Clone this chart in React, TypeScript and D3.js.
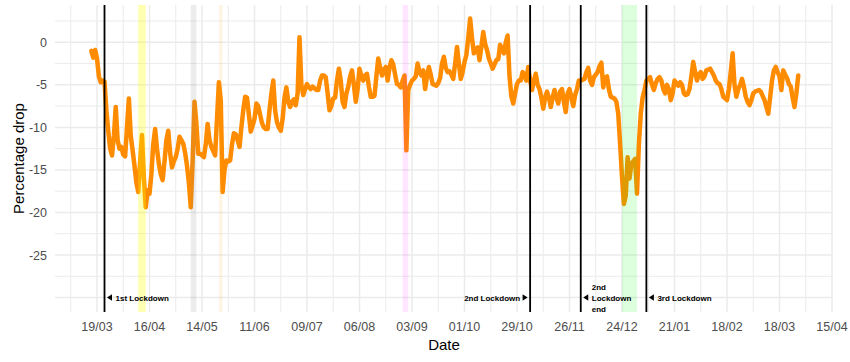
import React from "react";
import * as d3 from "d3";

// ---- data ----
const START_DATE = "2020-03-16"; // first daily observation
const values: number[] = [
  // Mar 16 - Mar 31 2020
  -1.0, -1.8, -0.9, -1.9, -4.0, -4.7, -4.5, -4.6, -8.0, -10.4, -12.5, -13.3, -11.0, -7.6, -11.5, -12.5,
  // Apr 2020
  -12.3, -13.2, -13.4, -10.0, -6.6, -11.0, -12.7, -14.5, -16.5, -17.6, -14.0, -10.9, -16.0, -19.4, -17.4,
  -17.8, -15.5, -12.0, -10.2, -12.5, -14.3, -15.5, -16.2, -14.0, -11.5, -10.4, -13.0, -14.7, -14.0, -13.5,
  // May 2020
  -12.5, -11.1, -11.5, -11.9, -13.0, -14.5, -16.5, -19.4, -14.0, -7.0, -9.5, -13.1, -13.1, -13.3, -13.5,
  -12.0, -9.6, -11.5, -12.3, -12.8, -13.3, -9.0, -4.7, -6.8, -17.6, -15.0, -13.9, -14.0, -13.9, -12.0, -10.7,
  // Jun 2020
  -10.8, -11.5, -12.3, -10.0, -8.0, -6.4, -6.5, -8.5, -10.5, -9.8, -9.0, -7.2, -7.5, -8.5, -9.5,
  -10.0, -10.2, -10.2, -8.0, -6.0, -4.5, -8.0, -9.4, -10.0, -10.4, -9.0, -6.5, -5.3, -7.0, -7.6,
  // Jul 2020
  -7.0, -6.7, -7.4, -6.0, 0.6, -5.0, -6.2, -5.5, -4.9, -5.3, -5.5, -5.2, -5.4, -5.6, -5.6, -4.5,
  -3.9, -3.9, -4.1, -6.0, -8.0, -7.5, -6.6, -6.5, -4.5, -3.1, -4.5, -7.0, -7.6, -6.0, -5.2,
  // Aug 2020
  -4.0, -3.3, -5.0, -7.0, -5.5, -3.1, -4.0, -4.5, -3.9, -3.7, -5.2, -6.4, -6.4, -6.3, -4.0, -1.9,
  -3.0, -3.9, -3.2, -2.9, -4.5, -3.0, -2.1, -2.6, -3.8, -4.9, -5.0, -5.3, -4.5, -3.9, -12.7,
  // Sep 2020
  -5.6, -5.0, -4.5, -4.3, -4.0, -2.5, -3.5, -3.9, -3.3, -5.5, -4.0, -2.9, -3.8, -4.9, -5.0,
  -5.1, -4.8, -4.2, -2.5, -1.7, -3.0, -3.5, -3.4, -3.8, -4.3, -2.5, -0.55, -2.5, -4.3, -3.5,
  // Oct 2020
  -2.3, -1.5, 0.5, 2.8, 0.5, -1.3, -0.8, -0.6, -2.1, -0.5, 1.2, -0.2, -0.9, -1.9, -2.5, -3.1,
  -2.6, -2.1, -2.0, -0.3, -0.8, -1.3, 0.0, 0.8, -4.0, -6.4, -7.2, -6.0, -4.9, -4.5, -4.5,
  // Nov 2020
  -3.5, -3.8, -4.5, -2.9, -4.5, -5.6, -4.5, -3.7, -5.0, -5.5, -6.5, -7.8, -6.5, -5.8, -6.5,
  -7.6, -6.5, -5.6, -6.5, -7.2, -5.8, -5.5, -7.0, -8.2, -6.0, -5.5, -6.5, -7.5, -6.2, -5.5,
  // Dec 2020
  -4.5, -4.5, -4.4, -4.3, -3.5, -3.0, -4.5, -5.0, -4.1, -3.8, -3.5, -2.8, -2.4, -5.3, -4.2, -4.0,
  -5.5, -6.4, -6.5, -6.6, -7.0, -8.4, -12.0, -15.8, -19.0, -18.0, -13.5, -16.0, -14.3, -14.0, -13.7,
  // Jan 2021
  -17.8, -12.0, -8.4, -6.5, -5.6, -4.5, -4.3, -4.1, -5.0, -5.6, -4.8, -4.3, -4.1, -4.5, -5.5, -6.0,
  -5.0, -5.5, -6.8, -6.0, -4.5, -4.8, -5.1, -4.7, -5.0, -6.0, -6.2, -6.1, -5.5, -4.0, -2.3,
  // Feb 2021
  -3.5, -4.5, -3.8, -3.5, -4.3, -4.0, -3.3, -3.2, -3.1, -3.5, -3.9, -4.5, -4.8, -4.9,
  -5.5, -6.4, -6.6, -6.8, -5.5, -3.5, -1.3, -5.0, -6.4, -5.5, -5.0, -4.3, -5.2, -6.4,
  // Mar 2021
  -7.0, -7.4, -6.8, -6.0, -5.8, -5.7, -5.6, -5.8, -6.3, -6.8, -7.6, -8.4, -6.5, -4.5, -3.3, -2.9,
  -3.5, -4.0, -5.6, -3.3, -3.8, -4.2, -4.9, -5.2, -6.5, -7.6, -6.0, -3.9,
];

const xTickDates = [
  "2020-03-19", "2020-04-16", "2020-05-14", "2020-06-11", "2020-07-09", "2020-08-06", "2020-09-03",
  "2020-10-01", "2020-10-29", "2020-11-26", "2020-12-24", "2021-01-21", "2021-02-18", "2021-03-18", "2021-04-15",
];
const yTicks = [0, -5, -10, -15, -20, -25];

const lockdownDates = ["2020-03-23", "2020-11-05", "2020-12-02", "2021-01-06"];
const lockdownLabels = ["1st Lockdown", "2nd Lockdown", "2nd\nLockdown\nend", "3rd Lockdown"];
const lockdownLabelSide = ["right", "left", "right", "right"];
const labelValue = -30;

const bandStarts = ["2020-04-10", "2020-05-08", "2020-05-23", "2020-08-29", "2020-12-24"];
const bandEnds = ["2020-04-14", "2020-05-11", "2020-05-25", "2020-09-01", "2021-01-01"];
const bandColors = ["#ffff00", "#808080", "#ff9900", "#ff00ff", "#00ff00"];
const bandAlphas = [0.3, 0.15, 0.1, 0.1, 0.13];

// ---- layout ----
const W = 850;
const H = 362;
const panel = { left: 55, right: 833, top: 5, bottom: 312 };
const parse = d3.utcParse("%Y-%m-%d");
const fmt = d3.utcFormat("%d/%m");
const FONT = "'Liberation Sans', Arial, sans-serif";

export default function App() {
  const start = parse(START_DATE)!;
  const series = values.map((v, i) => ({ date: d3.utcDay.offset(start, i), value: v }));

  const x = d3
    .scaleUtc()
    .domain([parse("2020-03-19")!, parse("2021-04-15")!])
    .range([97, 832]);
  const y = d3.scaleLinear().domain([0, -25]).range([42.3, 255]);

  const gridStart = parse("2020-03-05")!;
  const allX = d3
    .range(0, 30)
    .map((i) => d3.utcDay.offset(gridStart, i * 14))
    .filter((d) => x(d) >= panel.left && x(d) <= panel.right + 0.5);
  const yGrid = d3
    .range(0, 15)
    .map((i) => 2.5 - i * 2.5)
    .filter((v) => y(v) >= panel.top && y(v) <= panel.bottom);

  const line = d3
    .line<{ date: Date; value: number }>()
    .x((d) => x(d.date))
    .y((d) => y(d.value));

  const lh = 11;

  return (
    <svg width={W} height={H} style={{ display: "block", position: "absolute", left: 0, top: 0 }} fontFamily={FONT}>
      <rect x={0} y={0} width={W} height={H} fill="#ffffff" />
      {yGrid.map((v) => (
        <line
          key={"yg" + v}
          x1={panel.left}
          x2={panel.right}
          y1={y(v)}
          y2={y(v)}
          stroke="#ebebeb"
          strokeWidth={v % 5 === 0 ? 1.5 : 1}
        />
      ))}
      {allX.map((d, i) => (
        <line
          key={"xg" + i}
          x1={x(d)}
          x2={x(d)}
          y1={panel.top}
          y2={panel.bottom}
          stroke="#ebebeb"
          strokeWidth={i % 2 === 1 ? 1.5 : 1}
        />
      ))}
      <path
        d={line(series) || ""}
        fill="none"
        stroke="#ff8c00"
        strokeWidth={4.5}
        strokeLinejoin="round"
        strokeLinecap="round"
      />
      {bandStarts.map((s, i) => (
        <rect
          key={"band" + i}
          x={x(parse(s)!)}
          y={panel.top}
          width={x(parse(bandEnds[i])!) - x(parse(s)!)}
          height={panel.bottom - panel.top}
          fill={bandColors[i]}
          fillOpacity={bandAlphas[i]}
        />
      ))}
      {lockdownDates.map((s, i) => {
        const lx = x(parse(s)!);
        const lines = lockdownLabels[i].split("\n");
        const right = lockdownLabelSide[i] === "right";
        const ly = y(labelValue);
        const triX = right ? lx + 2.5 : lx - 7.5;
        const textX = right ? lx + 11 : lx - 10;
        const top = ly - ((lines.length - 1) * lh) / 2;
        return (
          <g key={"ld" + i}>
            <line x1={lx} x2={lx} y1={panel.top} y2={panel.bottom} stroke="#000" strokeWidth={1.8} />
            <path
              d={
                right
                  ? `M${triX},${ly} L${triX + 5},${ly - 3.2} L${triX + 5},${ly + 3.2} Z`
                  : `M${triX + 5},${ly} L${triX},${ly - 3.2} L${triX},${ly + 3.2} Z`
              }
              fill="#000"
            />
            {lines.map((t, j) => (
              <text
                key={j}
                x={textX}
                y={top + j * lh + 3}
                textAnchor={right ? "start" : "end"}
                fontSize={8}
                fontWeight="bold"
                fill="#000"
              >
                {t}
              </text>
            ))}
          </g>
        );
      })}
      {xTickDates.map((s) => (
        <text key={"xt" + s} x={x(parse(s)!)} y={331} textAnchor="middle" fontSize={12.5} fill="#4d4d4d">
          {fmt(parse(s)!)}
        </text>
      ))}
      {yTicks.map((v) => (
        <text key={"yt" + v} x={47} y={y(v) + 4.5} textAnchor="end" fontSize={12.5} fill="#4d4d4d">
          {v}
        </text>
      ))}
      <text x={(panel.left + panel.right) / 2} y={350} textAnchor="middle" fontSize={15} fill="#000">
        Date
      </text>
      <text
        transform={`translate(24, ${(panel.top + panel.bottom) / 2}) rotate(-90)`}
        textAnchor="middle"
        fontSize={15}
        fill="#000"
      >
        Percentage drop
      </text>
    </svg>
  );
}
